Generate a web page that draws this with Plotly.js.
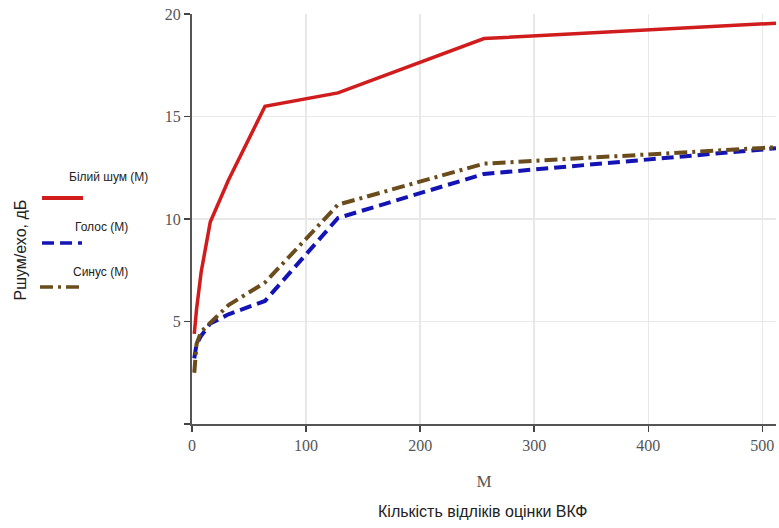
<!DOCTYPE html>
<html>
<head>
<meta charset="utf-8">
<script src="https://cdn.plot.ly/plotly-3.0.1.min.js"></script>
<style>html,body{margin:0;padding:0;background:#fff;}#chart{width:779px;height:528px;}</style>
</head>
<body>
<div id="chart"></div>
<script>
// Data
const M = [2, 4, 8, 16, 32, 64, 128, 256, 512];
const whiteNoise = [4.4, 5.6, 7.4, 9.85, 11.9, 15.5, 16.15, 18.8, 19.55];
const voice      = [3.2, 3.9, 4.3, 4.9, 5.35, 6.0, 10.05, 12.2, 13.45];
const sine       = [2.5, 3.9, 4.5, 4.95, 5.8, 6.9, 10.7, 12.7, 13.5];

const names = ['Білий шум (M)', 'Голос (M)', 'Синус (M)'];
const xTicks = [0, 100, 200, 300, 400, 500];
const yTicks = [0, 5, 10, 15, 20];
const yTickText = ['', '5', '10', '15', '20'];

const colors = ['#d01c1c', '#1414b4', '#6b4c1c'];

const traces = [
  {x: M, y: whiteNoise, name: names[0], mode: 'lines', line: {color: colors[0], width: 3.5}},
  {x: M, y: voice, name: names[1], mode: 'lines', line: {color: colors[1], width: 4, dash: '12px,6px'}},
  {x: M, y: sine, name: names[2], mode: 'lines', line: {color: colors[2], width: 4, dash: '13px,5px,3px,5px'}}
];

const sans = 'Liberation Sans';

function serifFont(size) {
  return {family: 'Liberation Serif', size: size, color: '#555'};
}

const layout = {
  width: 779, height: 528,
  margin: {l: 192, r: 3, t: 14, b: 104},
  paper_bgcolor: '#fff', plot_bgcolor: '#fff',
  showlegend: false,
  xaxis: {
    range: [0, 512], tickvals: xTicks, ticks: 'outside', ticklen: 6, tickwidth: 1.5, tickcolor: '#444',
    showline: true, linecolor: '#555', linewidth: 2, zeroline: false,
    showgrid: true, gridcolor: '#e8e8e8', gridwidth: 1.5,
    tickfont: serifFont(16),
    title: {text: 'M', font: serifFont(17), standoff: 22}
  },
  yaxis: {
    range: [0, 20], tickvals: yTicks, ticktext: yTickText, ticks: 'outside', ticklen: 6, tickwidth: 1.5, tickcolor: '#444',
    showline: true, linecolor: '#555', linewidth: 2, zeroline: false,
    showgrid: true, gridcolor: '#e8e8e8', gridwidth: 1.5,
    tickfont: serifFont(16)
  },
  annotations: [
    {xref: 'paper', yref: 'paper', x: 0.498, y: -0.2146, text: 'Кількість відліків оцінки ВКФ', showarrow: false,
     font: {family: sans, size: 16, color: '#222'}, xanchor: 'center', yanchor: 'middle'},
    {xref: 'paper', yref: 'paper', x: -0.294, y: 0.424, text: 'Pшум/ехо, дБ', showarrow: false, textangle: -90,
     font: {family: sans, size: 16, color: '#222'}, xanchor: 'center', yanchor: 'middle'},
    {xref: 'paper', yref: 'paper', x: -0.1438, y: 0.6024, text: names[0], showarrow: false,
     font: {family: sans, size: 12, color: '#222'}, xanchor: 'center', yanchor: 'middle'},
    {xref: 'paper', yref: 'paper', x: -0.1558, y: 0.4805, text: names[1], showarrow: false,
     font: {family: sans, size: 12, color: '#222'}, xanchor: 'center', yanchor: 'middle'},
    {xref: 'paper', yref: 'paper', x: -0.1575, y: 0.3707, text: names[2], showarrow: false,
     font: {family: sans, size: 12, color: '#222'}, xanchor: 'center', yanchor: 'middle'}
  ],
  shapes: [
    {type: 'line', xref: 'paper', yref: 'paper', x0: -0.2568, x1: -0.1866, y0: 0.5512, y1: 0.5512,
     line: {color: colors[0], width: 4}},
    {type: 'line', xref: 'paper', yref: 'paper', x0: -0.2568, x1: -0.1884, y0: 0.4415, y1: 0.4415,
     line: {color: colors[1], width: 3.5, dash: '12px,6px'}},
    {type: 'line', xref: 'paper', yref: 'paper', x0: -0.2603, x1: -0.1918, y0: 0.3341, y1: 0.3341,
     line: {color: colors[2], width: 3.5, dash: '13px,5px,3px,5px'}}
  ]
};

Plotly.newPlot('chart', traces, layout, {displayModeBar: false, staticPlot: true});
</script>
</body>
</html>
